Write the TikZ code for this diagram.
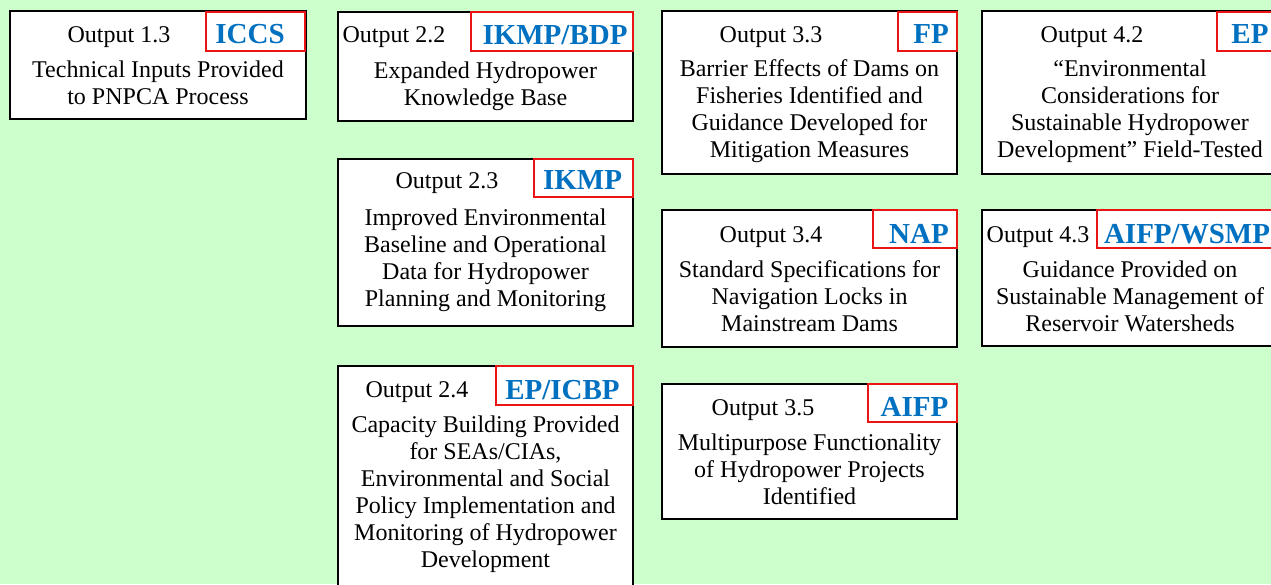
\documentclass[tikz,border=0pt]{standalone}
\usepackage{fontspec}
\setmainfont{Liberation Serif}
\usetikzlibrary{fit,shadows}
\definecolor{paper}{HTML}{CCFFCC}
\definecolor{tagblue}{RGB}{0,112,192}
\definecolor{tagred}{RGB}{235,20,20}

\tikzset{
  x=1pt, y=-1pt,
  outbox/.style={draw=black, line width=1.1pt, fill=white, inner sep=0pt,
    drop shadow={shadow xshift=1.3pt, shadow yshift=-1.3pt, opacity=1, fill=black}},
  tag/.style={draw=tagred, line width=1.8pt, inner sep=0pt},
  tagtext/.style={anchor=base, inner sep=0pt, text=tagblue,
    font=\fontsize{29}{32}\selectfont\bfseries},
  hdr/.style={anchor=base, inner sep=0pt, font=\fontsize{24}{27}\selectfont},
  body/.style={anchor=north, yshift=18.9pt, align=center, inner sep=0pt,
    font=\fontsize{24}{27}\selectfont},
}

\begin{document}
\begin{tikzpicture}
\useasboundingbox (0,0) rectangle (1271,584);
\clip (0,0) rectangle (1271,584);
\fill[paper] (0,0) rectangle (1271,584);

% Output 1.3
\node[outbox, fit={(10,11) (306,119)}] (o13) {};
\node[tag, fit={(206,12) (305,51)}] (t13) {};
\node[tagtext] (l13) at (250,43) {ICCS};
\node[hdr] (h13) at (119,42) {Output 1.3};
\node[body] (b13) at (158,77) {\strut Technical Inputs Provided\\to PNPCA Process};

% Output 2.2
\node[outbox, fit={(338,12) (633,121)}] (o22) {};
\node[tag, fit={(471,12) (633,51)}] (t22) {};
\node[tagtext] (l22) at (555,44) {IKMP/BDP};
\node[hdr] (h22) at (394,42) {Output 2.2};
\node[body] (b22) at (485.5,78) {\strut Expanded Hydropower\\Knowledge Base};

% Output 2.3
\node[outbox, fit={(338,159) (633,326)}] (o23) {};
\node[tag, fit={(534,159) (633,197)}] (t23) {};
\node[tagtext] (l23) at (582.5,189) {IKMP};
\node[hdr] (h23) at (447,188) {Output 2.3};
\node[body] (b23) at (485.5,225) {\strut Improved Environmental\\Baseline and Operational\\Data for Hydropower\\Planning and Monitoring};

% Output 2.4
\node[outbox, fit={(338,366) (633,600)}] (o24) {};
\node[tag, fit={(496,366) (633,405)}] (t24) {};
\node[tagtext] (l24) at (562.5,399) {EP/ICBP};
\node[hdr] (h24) at (417,397) {Output 2.4};
\node[body] (b24) at (485.5,432) {\strut Capacity Building Provided\\for SEAs/CIAs,\\Environmental and Social\\Policy Implementation and\\Monitoring of Hydropower\\Development};

% Output 3.3
\node[outbox, fit={(662,11) (957,174)}] (o33) {};
\node[tag, fit={(898,12) (957,51)}] (t33) {};
\node[tagtext] (l33) at (931,43) {FP};
\node[hdr] (h33) at (771,42) {Output 3.3};
\node[body] (b33) at (809.5,76) {\strut Barrier Effects of Dams on\\Fisheries Identified and\\Guidance Developed for\\Mitigation Measures};

% Output 3.4
\node[outbox, fit={(662,210) (957,347)}] (o34) {};
\node[tag, fit={(873,210) (957,248)}] (t34) {};
\node[tagtext] (l34) at (919,243) {NAP};
\node[hdr] (h34) at (771,242) {Output 3.4};
\node[body] (b34) at (809.5,277) {\strut Standard Specifications for\\Navigation Locks in\\Mainstream Dams};

% Output 3.5
\node[outbox, fit={(662,384) (957,519)}] (o35) {};
\node[tag, fit={(868,384) (957,422)}] (t35) {};
\node[tagtext] (l35) at (914.5,416) {AIFP};
\node[hdr] (h35) at (763,415) {Output 3.5};
\node[body] (b35) at (809.5,450) {\strut Multipurpose Functionality\\of Hydropower Projects\\Identified};

% Output 4.2
\node[outbox, fit={(982,11) (1278,174)}] (o42) {};
\node[tag, fit={(1217,12) (1282,51)}] (t42) {};
\node[tagtext] (l42) at (1250,43) {EP};
\node[hdr] (h42) at (1092,42) {Output 4.2};
\node[body] (b42) at (1130,76) {\strut “Environmental\\Considerations for\\Sustainable Hydropower\\Development” Field-Tested};

% Output 4.3
\node[outbox, fit={(982,210) (1278,346)}] (o43) {};
\node[tag, fit={(1097,210) (1282,248)}] (t43) {};
\node[tagtext] (l43) at (1187,243) {AIFP/WSMP};
\node[hdr] (h43) at (1038,242) {Output 4.3};
\node[body] (b43) at (1130,277) {\strut Guidance Provided on\\Sustainable Management of\\Reservoir Watersheds};
\end{tikzpicture}
\end{document}
